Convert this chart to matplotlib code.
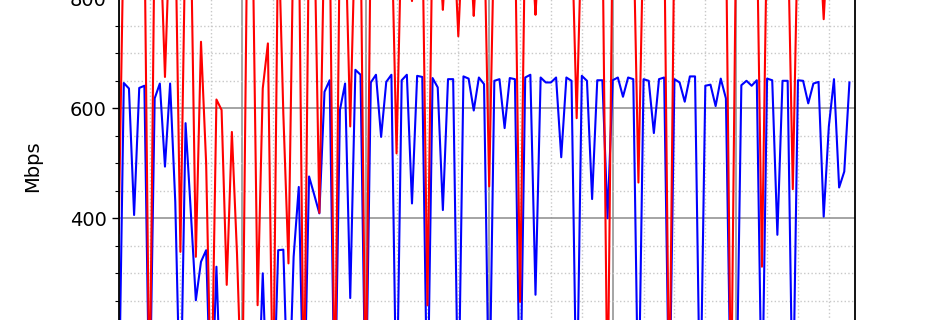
import numpy as np
import matplotlib
matplotlib.use("Agg")
import matplotlib.pyplot as plt
from matplotlib.ticker import MultipleLocator, FuncFormatter

# hourly samples (index), throughput in Mbps
hours = np.arange(143)

blue_mbps = [
    30, 646, 636, 406, 637, 641, 30, 618, 645, 494,
    645, 430, 30, 573, 415, 251, 321, 342, 30, 312,
    30, 30, 30, 30, 30, 30, 30, 30, 300, 30,
    30, 342, 343, 30, 330, 457, 30, 476, 443, 409,
    630, 651, 30, 597, 645, 255, 670, 661, 30, 647,
    661, 548, 648, 661, 30, 651, 661, 427, 659, 657,
    30, 655, 638, 415, 653, 653, 30, 658, 654, 596,
    656, 644, 30, 650, 653, 564, 655, 653, 30, 656,
    661, 261, 656, 647, 647, 656, 511, 656, 650, 30,
    659, 650, 435, 651, 651, 400, 651, 656, 621, 656,
    653, 30, 653, 650, 555, 653, 656, 30, 653, 647,
    612, 658, 658, 30, 641, 643, 604, 654, 618, 30,
    30, 642, 650, 641, 651, 30, 654, 651, 370, 650,
    650, 30, 651, 650, 609, 645, 648, 403, 567, 653,
    456, 485, 647,
]

red_mbps = [
    373, 940, 940, 940, 940, 940, 40, 940, 940, 657,
    940, 940, 339, 940, 940, 330, 721, 500, 40, 616,
    597, 279, 557, 335, 40, 940, 940, 242, 636, 718,
    40, 940, 590, 318, 940, 940, 40, 940, 940, 410,
    940, 940, 40, 940, 940, 567, 940, 940, 40, 940,
    940, 940, 940, 940, 518, 940, 940, 795, 940, 940,
    242, 940, 940, 779, 940, 940, 731, 940, 940, 768,
    940, 940, 458, 940, 940, 940, 940, 940, 248, 940,
    940, 770, 940, 940, 940, 940, 940, 940, 940, 582,
    940, 940, 940, 940, 940, 40, 940, 940, 940, 940,
    940, 465, 940, 940, 940, 940, 940, 40, 940, 940,
    940, 940, 940, 940, 940, 940, 940, 940, 940, 40,
    940, 940, 940, 940, 940, 312, 940, 940, 940, 940,
    940, 453, 940, 940, 940, 940, 940, 762, 940, 940,
    940, 940, 940,
]

# tick labels that fall inside the visible band
shown_ticks = [400, 600, 800]

fig = plt.figure(figsize=(9.5, 3.2), dpi=100)
# only a band of the axes is visible, the rest lies outside the figure
ax = fig.add_axes([0.1249, -0.3697, 0.7754, 1.71875])

ax.plot(hours, blue_mbps, color="blue", linewidth=1.5)
ax.plot(hours, red_mbps, color="red", linewidth=1.5)

ax.set_xlim(0, 143.14)
ax.set_ylim(0, 1000)
ax.xaxis.set_major_locator(MultipleLocator(24))
ax.xaxis.set_minor_locator(MultipleLocator(6))
ax.yaxis.set_major_locator(MultipleLocator(200))
ax.yaxis.set_minor_locator(MultipleLocator(50))
ax.yaxis.set_major_formatter(
    FuncFormatter(lambda v, pos: f"{v:.0f}" if round(v) in shown_ticks else "")
)

ax.grid(which="major", color="#8c8c8c", linestyle="-", linewidth=1.1)
ax.grid(which="minor", color="#c8c8c8", linestyle=":", linewidth=1.0)
ax.set_axisbelow(True)

for side in ["left", "right", "top", "bottom"]:
    ax.spines[side].set_linewidth(1.3)
    ax.spines[side].set_color("black")

ax.tick_params(axis="x", which="both", labelbottom=False)
ax.tick_params(axis="y", which="major", labelsize=14, length=5, width=1.0, direction="out")
ax.tick_params(axis="y", which="minor", length=3, width=0.8, direction="out")

ax.set_ylabel("Mbps", fontsize=14)
ax.yaxis.set_label_coords(42 / 950, 154 / 320, transform=fig.transFigure)

fig.savefig("out.png", dpi=100)
